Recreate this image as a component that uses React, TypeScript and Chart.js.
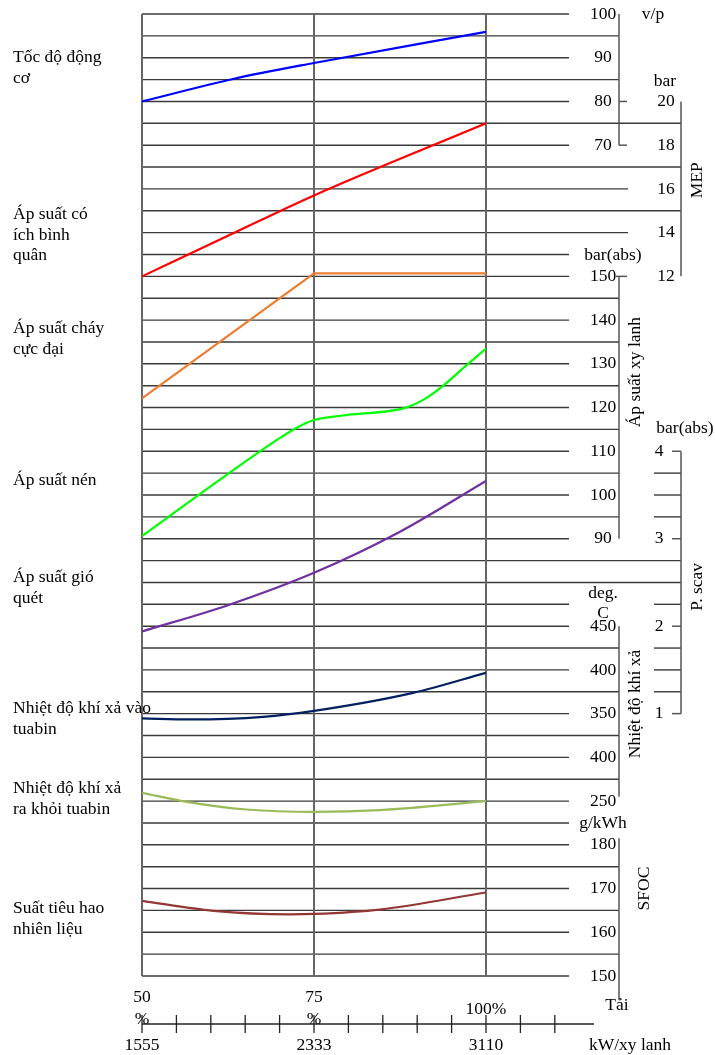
import React, { useEffect, useRef } from "react";
import { Chart, registerables } from "chart.js";

Chart.register(...registerables);

// ---------- data ----------
const speedLoad = [50, 63.4, 75, 100];
const speedRpm = [80, 85.2, 88.8, 95.9];

const mepLoad = [50, 62.8, 75, 100];
const mepBar = [12, 13.9, 15.7, 19.0];

const pmaxLoad = [50, 75, 100];
const pmaxBar = [122.1, 150.7, 150.7];

const pcompLoad = [50, 62.3, 70.0, 72.5, 74.9, 79.8, 88.0, 90.8, 93.3, 96.9, 100];
const pcompBar = [90.6, 104.6, 113.0, 115.4, 117.1, 118.3, 119.8, 121.7, 124.4, 129.3, 133.5];

const scavLoad = [50, 62.5, 75, 87.5, 100];
const scavBar = [1.94, 2.24, 2.61, 3.08, 3.66];

const exhInLoad = [50, 57.0, 67.6, 75, 89.4, 100];
const exhInTemp = [344.6, 343.4, 346.4, 353.2, 373.8, 396.7];

const exhOutLoad = [50, 56.5, 65.2, 75, 84.6, 100];
const exhOutTemp = [259.5, 249.2, 240.4, 237.7, 239.7, 249.9];

const sfocLoad = [50, 60.4, 71.5, 75, 84.6, 100];
const sfocVal = [167.2, 164.9, 164.1, 164.2, 165.2, 169.1];

// ---------- tick labels ----------
const speedTicks = [100, 90, 80, 70];
const mepTicks = [20, 18, 16, 14, 12];
const cylTicks = [150, 140, 130, 120, 110, 100, 90];
const scavTicks = [4, 3, 2, 1];
const exhTickValues = [450, 400, 350, 300, 250];
const exhTickLabels = ["450", "400", "350", "400", "250"];
const sfocTicks = [180, 170, 160, 150];
const loadTickValues = [50, 75, 100];
const loadTickLabels = [["50", "%"], ["75", "%"], ["100%"]];
const powerLabels = ["1555", "2333", "3110"];
const loadMinorTicks = [50, 55, 60, 65, 70, 75, 80, 85, 90, 95, 100, 105, 110];

const leftLabels = [
  ["Tốc độ động", "cơ"],
  ["Áp suất có", "ích bình", "quân"],
  ["Áp suất cháy", "cực đại"],
  ["Áp suất nén"],
  ["Áp suất gió", "quét"],
  ["Nhiệt độ khí xả vào", "tuabin"],
  ["Nhiệt độ khí xả", "ra khỏi tuabin"],
  ["Suất tiêu hao", "nhiên liệu"],
];

// ---------- layout (not data) ----------
const LEFT_BASELINES = [62, 219, 333, 485, 582, 713, 793, 913];
const LINE_H = 20.5;
// grid line right ends: S=short(label), A=to axis, M=mid, F=full; lowercase adds right segment
const GRID_ENDS = "SASASFSFMFMSSASASASAS" + "asaSFFsSasaS" + "ASASSSASASAS";
const FONT = '17.5px "Liberation Serif", "Times New Roman", serif';

const pts = (xs: number[], ys: number[]) => xs.map((x, i) => ({ x, y: ys[i] }));

const decorPlugin = {
  id: "decor",
  beforeDatasetsDraw(chart: any) {
    const ctx = chart.ctx as CanvasRenderingContext2D;
    const ca = chart.chartArea;
    const g = chart.scales.yGrid;
    const xs = chart.scales.x;
    const R = ca.right;
    ctx.save();
    ctx.strokeStyle = "#3a3a3a";
    ctx.lineWidth = 1.4;
    for (let i = 0; i <= 44; i++) {
      const y = g.getPixelForValue(i);
      const c = GRID_ENDS[i];
      const up = c.toUpperCase();
      let end = R + 83;
      if (up === "A") end = R + 133;
      if (up === "M") end = R + 142;
      if (up === "F") end = R + 195;
      ctx.beginPath();
      ctx.moveTo(ca.left, y);
      ctx.lineTo(end, y);
      ctx.stroke();
      if (c !== up) {
        ctx.beginPath();
        ctx.moveTo(R + 168, y);
        ctx.lineTo(R + 195, y);
        ctx.stroke();
      }
    }
    ctx.strokeStyle = "#666";
    ctx.lineWidth = 2;
    for (const v of loadTickValues) {
      const x = xs.getPixelForValue(v);
      ctx.beginPath();
      ctx.moveTo(x, g.getPixelForValue(0));
      ctx.lineTo(x, g.getPixelForValue(44));
      ctx.stroke();
    }
    ctx.restore();
  },
  afterDatasetsDraw(chart: any) {
    const ctx = chart.ctx as CanvasRenderingContext2D;
    const ca = chart.chartArea;
    const s = chart.scales;
    const xs = s.x;
    const R = ca.right;
    const axX = R + 133; // 619
    const axX2 = R + 195; // 681
    const colX = R + 117; // 603
    const col2X = R + 180; // 666
    ctx.save();
    // ---- axis lines
    ctx.strokeStyle = "#555";
    ctx.lineWidth = 1.5;
    const vline = (x: number, y1: number, y2: number) => {
      ctx.beginPath();
      ctx.moveTo(x, y1);
      ctx.lineTo(x, y2);
      ctx.stroke();
    };
    const hline = (x1: number, x2: number, y: number) => {
      ctx.beginPath();
      ctx.moveTo(x1, y);
      ctx.lineTo(x2, y);
      ctx.stroke();
    };
    vline(axX, s.ySpeed.getPixelForValue(100), s.ySpeed.getPixelForValue(70));
    hline(axX, axX + 8, s.ySpeed.getPixelForValue(80));
    hline(axX, axX + 8, s.ySpeed.getPixelForValue(70));
    vline(axX2, s.yMep.getPixelForValue(20), s.yMep.getPixelForValue(12));
    vline(axX, s.yCyl.getPixelForValue(150), s.yCyl.getPixelForValue(90));
    hline(axX - 3, axX + 8, s.yCyl.getPixelForValue(150));
    vline(axX2, s.yScav.getPixelForValue(4), s.yScav.getPixelForValue(1));
    for (const v of scavTicks) hline(axX2 - 9, axX2, s.yScav.getPixelForValue(v));
    vline(axX, s.yExh.getPixelForValue(450), s.yExh.getPixelForValue(255));
    vline(axX, s.ySfoc.getPixelForValue(181.5), s.ySfoc.getPixelForValue(144.5));

    // ---- bottom axis
    const by = ca.bottom + 48;
    ctx.strokeStyle = "#222";
    ctx.lineWidth = 1.3;
    hline(xs.getPixelForValue(50), xs.getPixelForValue(115.7), by);
    for (const v of loadMinorTicks) {
      const x = xs.getPixelForValue(v);
      vline(x, by - 9, by + 9);
    }

    // ---- texts
    ctx.fillStyle = "#000";
    ctx.font = FONT;
    ctx.textBaseline = "alphabetic";
    ctx.textAlign = "left";
    leftLabels.forEach((lines, k) => {
      lines.forEach((t, j) => ctx.fillText(t, 13, LEFT_BASELINES[k] + j * LINE_H));
    });

    ctx.textBaseline = "middle";
    ctx.textAlign = "center";
    for (const v of speedTicks) ctx.fillText(String(v), colX, s.ySpeed.getPixelForValue(v));
    for (const v of cylTicks) ctx.fillText(String(v), colX, s.yCyl.getPixelForValue(v));
    exhTickValues.forEach((v, k) => ctx.fillText(exhTickLabels[k], colX, s.yExh.getPixelForValue(v)));
    for (const v of sfocTicks) ctx.fillText(String(v), colX, s.ySfoc.getPixelForValue(v));
    for (const v of mepTicks) ctx.fillText(String(v), col2X, s.yMep.getPixelForValue(v));
    for (const v of scavTicks) ctx.fillText(String(v), R + 173, s.yScav.getPixelForValue(v));

    // units
    ctx.fillText("v/p", R + 167, s.ySpeed.getPixelForValue(99.8));
    ctx.fillText("bar", col2X - 1, s.ySpeed.getPixelForValue(84.5));
    ctx.fillText("bar(abs)", R + 127, s.yCyl.getPixelForValue(154.7));
    ctx.fillText("bar(abs)", R + 199, s.yScav.getPixelForValue(4.26));
    ctx.fillText("deg.", colX, s.yExh.getPixelForValue(488));
    ctx.fillText("C", colX, s.yExh.getPixelForValue(465));
    ctx.fillText("g/kWh", colX, s.ySfoc.getPixelForValue(185));

    // rotated titles
    const rot = (t: string, x: number, y: number) => {
      ctx.save();
      ctx.translate(x, y);
      ctx.rotate(-Math.PI / 2);
      ctx.textAlign = "center";
      ctx.textBaseline = "middle";
      ctx.fillText(t, 0, 0);
      ctx.restore();
    };
    rot("MEP", R + 211, s.yMep.getPixelForValue(16.4));
    rot("Áp suất xy lanh", R + 149, s.yCyl.getPixelForValue(128.1));
    rot("P. scav", R + 211, s.yScav.getPixelForValue(2.45));
    rot("Nhiệt độ khí xả", R + 149, s.yExh.getPixelForValue(361));
    rot("SFOC", R + 158, s.ySfoc.getPixelForValue(170));

    // bottom labels
    loadTickValues.forEach((v, k) => {
      const x = xs.getPixelForValue(v);
      const L = loadTickLabels[k];
      if (L.length === 2) {
        ctx.fillText(L[0], x, ca.bottom + 21);
        ctx.fillText(L[1], x, ca.bottom + 43);
      } else {
        ctx.fillText(L[0], x, ca.bottom + 33);
      }
      ctx.fillText(powerLabels[k], x, ca.bottom + 69);
    });
    ctx.fillText("Tải", R + 131, ca.bottom + 29);
    ctx.fillText("kW/xy lanh", R + 144, ca.bottom + 69);
    ctx.restore();
  },
};

function hiddenY(min: number, max: number, reverse = false) {
  return { type: "linear" as const, display: false, min, max, reverse };
}

export default function App() {
  const ref = useRef<HTMLCanvasElement | null>(null);
  useEffect(() => {
    if (!ref.current) return;
    const W = 2.2;
    const base = { pointRadius: 0, borderWidth: W, fill: false, cubicInterpolationMode: "monotone" as const };
    const chart = new Chart(ref.current, {
      type: "line",
      data: {
        datasets: [
          { ...base, label: "Tốc độ động cơ", data: pts(speedLoad, speedRpm), borderColor: "#0000ff", yAxisID: "ySpeed" },
          { ...base, label: "MEP", data: pts(mepLoad, mepBar), borderColor: "#ff0000", yAxisID: "yMep" },
          { ...base, label: "Áp suất cháy cực đại", data: pts(pmaxLoad, pmaxBar), borderColor: "#ed7d31", yAxisID: "yCyl", cubicInterpolationMode: "default", tension: 0 },
          { ...base, label: "Áp suất nén", data: pts(pcompLoad, pcompBar), borderColor: "#00ff00", yAxisID: "yCyl" },
          { ...base, label: "Áp suất gió quét", data: pts(scavLoad, scavBar), borderColor: "#7030a0", yAxisID: "yScav" },
          { ...base, label: "Nhiệt độ khí xả vào tuabin", data: pts(exhInLoad, exhInTemp), borderColor: "#002060", yAxisID: "yExh" },
          { ...base, label: "Nhiệt độ khí xả ra khỏi tuabin", data: pts(exhOutLoad, exhOutTemp), borderColor: "#9bbb59", yAxisID: "yExh" },
          { ...base, label: "Suất tiêu hao nhiên liệu", data: pts(sfocLoad, sfocVal), borderColor: "#943634", yAxisID: "ySfoc" },
        ],
      },
      options: {
        responsive: false,
        animation: false,
        devicePixelRatio: 1,
        layout: { padding: { left: 142, right: 229, top: 14, bottom: 79 } },
        plugins: { legend: { display: false }, tooltip: { enabled: false } },
        events: [],
        scales: {
          x: { type: "linear", display: false, min: 50, max: 100 },
          yGrid: hiddenY(0, 44, true),
          ySpeed: hiddenY(-120, 100),
          yMep: hiddenY(-20, 24),
          yCyl: hiddenY(-10, 210),
          yScav: hiddenY(-2, 9),
          yExh: hiddenY(50, 1150),
          ySfoc: hiddenY(150, 370),
        },
      } as any,
      plugins: [decorPlugin],
    });
    return () => chart.destroy();
  }, []);
  return (
    <div style={{ position: "absolute", left: 0, top: 0, width: 715, height: 1055, background: "#fff" }}>
      <canvas ref={ref} width={715} height={1055} style={{ display: "block" }} />
    </div>
  );
}
